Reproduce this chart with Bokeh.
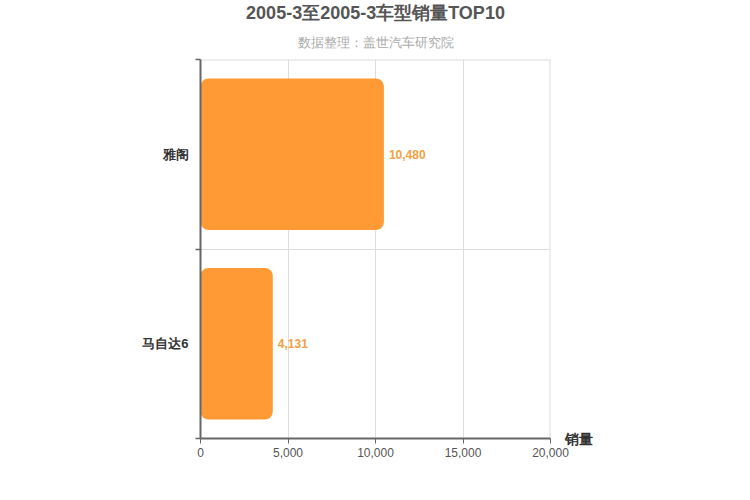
from bokeh.plotting import figure
from bokeh.models import Range1d, FixedTicker, Title, LinearAxis, ColumnDataSource, NumeralTickFormatter, Span
from bokeh.core.properties import value
from bokeh.embed import file_html
from bokeh.resources import INLINE

title_text = "2005-3至2005-3车型销量TOP10"
subtitle_text = "数据整理：盖世汽车研究院"
categories = ["雅阁", "马自达6"]
sales = [10480, 4131]
x_ticks = [0, 5000, 10000, 15000, 20000]
axis_name = "销量"

FONT = "Liberation Sans"
n = len(categories)
# top category first
ypos = [n - 0.5 - i for i in range(n)]
labels = ["{:,}".format(v) for v in sales]

src = ColumnDataSource(dict(y=ypos, v=sales, lab=labels, cat=categories))

p = figure(width=750, height=500, output_backend="svg", toolbar_location=None,
           x_range=Range1d(0, x_ticks[-1]), y_range=Range1d(0, n),
           min_border_left=200, min_border_right=200, min_border_bottom=62, min_border_top=0)
p.outline_line_color = None
p.background_fill_color = "white"
p.border_fill_color = "white"

GRID = "#dddddd"
p.xgrid.ticker = FixedTicker(ticks=x_ticks[1:])
p.xgrid.grid_line_color = GRID
p.ygrid.ticker = FixedTicker(ticks=list(range(1, n + 1)))
p.ygrid.grid_line_color = GRID
# edge grid lines (top category boundary and max value)
p.add_layout(Span(location=n, dimension="width", line_color=GRID, line_width=2, level="underlay"))
p.add_layout(Span(location=x_ticks[-1], dimension="height", line_color=GRID, line_width=2, level="underlay"))

p.hbar(y="y", right="v", left=0, height=0.8, source=src, fill_color="#FF9A35",
       line_color=None, border_radius=8)
p.text(x="v", y="y", text="lab", source=src, x_offset=5, text_baseline="middle",
       text_align="left", text_color="#F3A043", text_font_size="12px",
       text_font=value(FONT), text_font_style="bold")

# x axis
p.xaxis.ticker = FixedTicker(ticks=x_ticks)
p.xaxis.formatter = NumeralTickFormatter(format="0,0")
p.xaxis.axis_line_color = "#666666"
p.xaxis.axis_line_width = 2
p.xaxis.major_tick_line_color = "#666666"
p.xaxis.major_tick_in = 0
p.xaxis.major_tick_out = 5
p.xaxis.minor_tick_line_color = None
p.xaxis.major_label_text_font = FONT
p.xaxis.major_label_text_font_size = "12px"
p.xaxis.major_label_text_color = "#555555"
p.xaxis.major_label_standoff = 4

# y axis
p.yaxis.ticker = FixedTicker(ticks=ypos, minor_ticks=list(range(n + 1)))
p.yaxis.major_label_overrides = {y: c for y, c in zip(ypos, categories)}
p.yaxis.axis_line_color = "#666666"
p.yaxis.axis_line_width = 2
p.yaxis.major_tick_line_color = None
p.yaxis.minor_tick_line_color = "#666666"
p.yaxis.minor_tick_line_width = 1.5
p.yaxis.minor_tick_in = 0
p.yaxis.minor_tick_out = 5
p.yaxis.major_label_text_font = FONT
p.yaxis.major_label_text_font_size = "13px"
p.yaxis.major_label_text_font_style = "bold"
p.yaxis.major_label_text_color = "#333333"
p.yaxis.major_label_standoff = 6

# axis name "销量" at the right end of the value axis
name_axis = LinearAxis(ticker=FixedTicker(ticks=[0]), major_label_overrides={0: axis_name},
                       axis_line_color=None, major_tick_line_color=None,
                       minor_tick_line_color=None, major_label_standoff=8,
                       major_label_orientation="horizontal",
                       major_label_text_font=FONT, major_label_text_font_size="14px",
                       major_label_text_font_style="bold", major_label_text_color="#333333")
p.add_layout(name_axis, "right")

p.add_layout(Title(text=subtitle_text, align="center", text_font=FONT,
                   text_font_size="13px", text_font_style="normal",
                   text_color="#aaaaaa", standoff=20), "above")
p.add_layout(Title(text=title_text, align="center", text_font=FONT,
                   text_font_size="18px", text_font_style="bold",
                   text_color="#555555", standoff=0), "above")

open("out.html", "w").write(file_html(p, INLINE))
